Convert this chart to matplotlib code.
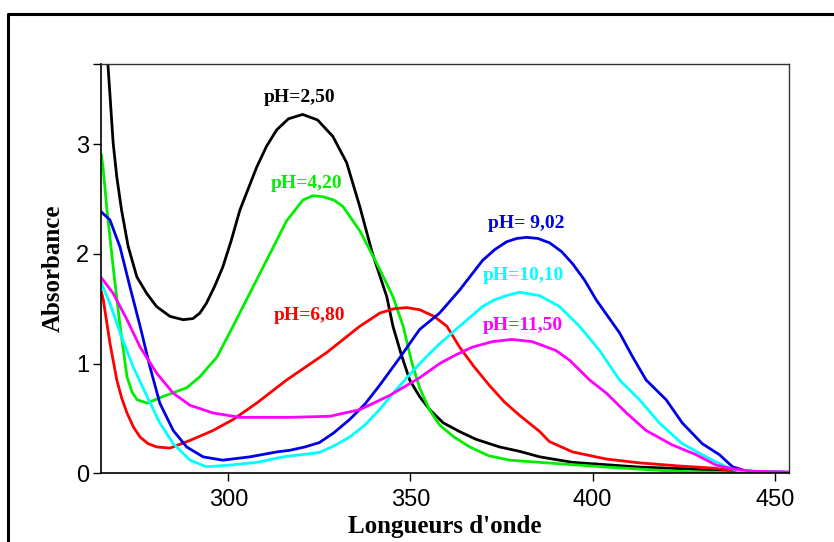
import matplotlib.pyplot as plt
from matplotlib.lines import Line2D

# absorption spectra at several pH values (wavelength in nm, absorbance)
x_250 = [265.2, 267.5, 268.4, 269.4, 270.7, 272.5, 274.9, 277.6, 280.3, 284.0, 287.6,
         290.3, 292.2, 294.0, 296.2, 298.5, 300.8, 303.2, 307.8, 310.5, 313.3, 316.5,
         320.4, 324.5, 328.7, 332.5, 336.1, 339.6, 343.5, 345.2, 347.5, 349.8, 352.5,
         355.3, 359.0, 363.5, 368.0, 374.5, 380.0, 385.5, 394.5, 412.9, 426.6, 440.0,
         454.0]
y_250 = [4.60, 3.46, 3.01, 2.70, 2.40, 2.07, 1.79, 1.64, 1.52, 1.43, 1.40,
         1.41, 1.46, 1.55, 1.70, 1.88, 2.12, 2.40, 2.79, 2.98, 3.13, 3.23,
         3.27, 3.22, 3.07, 2.83, 2.43, 2.00, 1.61, 1.34, 1.08, 0.85, 0.70,
         0.58, 0.46, 0.38, 0.31, 0.24, 0.20, 0.15, 0.10, 0.057, 0.04, 0.01,
         0.0]

x_420 = [265.2, 265.7, 266.7, 268.4, 270.3, 272.2, 273.6, 275.0, 277.7, 282.1, 288.6,
         292.2, 296.9, 301.3, 305.9, 310.5, 316.0, 320.5, 323.2, 326.0, 329.0, 331.5,
         336.1, 340.8, 345.2, 348.0, 350.3, 352.5, 355.2, 358.0, 362.0, 366.3, 371.5,
         377.3, 385.5, 403.8, 421.8, 438.0, 454.0]
y_420 = [2.90, 2.76, 2.40, 1.88, 1.34, 0.88, 0.74, 0.67, 0.64, 0.70, 0.78,
         0.88, 1.06, 1.34, 1.64, 1.94, 2.30, 2.49, 2.53, 2.52, 2.49, 2.43,
         2.21, 1.91, 1.61, 1.34, 1.02, 0.78, 0.58, 0.44, 0.33, 0.24, 0.16,
         0.12, 0.10, 0.057, 0.02, 0.005, 0.0]

x_680 = [265.2, 265.7, 267.5, 269.4, 270.8, 272.2, 274.0, 275.8, 278.0, 280.4, 284.0,
         289.5, 295.8, 301.3, 307.8, 316.0, 327.0, 336.1, 341.6, 345.5, 349.0, 352.6,
         356.5, 360.0, 363.5, 367.5, 371.7, 375.8, 379.9, 385.5, 388.1, 394.5, 403.8,
         412.9, 423.8, 432.9, 439.5, 445.0, 454.0]
y_680 = [1.65, 1.58, 1.19, 0.85, 0.68, 0.55, 0.42, 0.33, 0.27, 0.24, 0.23,
         0.30, 0.39, 0.49, 0.64, 0.85, 1.10, 1.34, 1.46, 1.50, 1.51, 1.49,
         1.43, 1.34, 1.15, 0.97, 0.80, 0.65, 0.53, 0.38, 0.29, 0.195, 0.13,
         0.095, 0.067, 0.048, 0.02, 0.01, 0.0]

x_902 = [265.2, 267.5, 270.3, 273.0, 275.8, 278.5, 281.2, 284.9, 288.6, 293.1, 298.5,
         305.9, 313.3, 316.9, 321.0, 325.0, 329.0, 333.3, 337.5, 341.5, 347.0, 352.5,
         358.0, 363.5, 369.8, 373.2, 376.4, 379.2, 381.9, 385.0, 388.2, 391.5, 394.5,
         397.8, 401.0, 404.2, 407.4, 411.0, 414.7, 420.2, 424.6, 430.1, 434.8, 438.4,
         442.2, 454.0]
y_902 = [2.38, 2.31, 2.06, 1.70, 1.34, 0.97, 0.64, 0.39, 0.24, 0.15, 0.12,
         0.15, 0.195, 0.21, 0.24, 0.28, 0.37, 0.49, 0.63, 0.80, 1.05, 1.31,
         1.46, 1.67, 1.94, 2.04, 2.11, 2.14, 2.15, 2.14, 2.10, 2.02, 1.91,
         1.76, 1.58, 1.43, 1.28, 1.06, 0.85, 0.67, 0.46, 0.27, 0.17, 0.06,
         0.02, 0.01]

x_1010 = [265.2, 267.5, 270.3, 273.9, 277.7, 281.2, 284.9, 289.5, 294.0, 300.4, 307.8,
          315.0, 320.0, 325.0, 329.0, 333.3, 337.5, 341.5, 345.5, 349.8, 354.0, 358.0,
          363.5, 369.8, 373.0, 376.4, 380.0, 385.4, 390.9, 396.4, 401.9, 407.4, 412.9,
          418.3, 424.6, 431.2, 436.6, 440.2, 454.0]
y_1010 = [1.73, 1.55, 1.28, 0.97, 0.70, 0.46, 0.27, 0.12, 0.06, 0.075, 0.10,
          0.15, 0.17, 0.19, 0.25, 0.33, 0.44, 0.58, 0.74, 0.90, 1.05, 1.18,
          1.34, 1.52, 1.58, 1.62, 1.65, 1.62, 1.52, 1.34, 1.12, 0.85, 0.67,
          0.46, 0.27, 0.15, 0.06, 0.02, 0.01]

x_1150 = [265.2, 268.4, 272.2, 275.8, 280.4, 284.9, 289.5, 295.8, 303.2, 316.9, 327.9,
          336.1, 344.3, 352.5, 358.0, 362.5, 367.0, 372.5, 377.9, 383.4, 389.9, 393.7,
          399.2, 403.8, 409.3, 414.7, 421.8, 428.4, 433.9, 438.4, 443.9, 454.0]
y_1150 = [1.78, 1.64, 1.40, 1.15, 0.91, 0.73, 0.62, 0.55, 0.51, 0.51, 0.52,
          0.58, 0.71, 0.87, 1.00, 1.08, 1.15, 1.20, 1.22, 1.20, 1.12, 1.03,
          0.85, 0.73, 0.55, 0.39, 0.26, 0.17, 0.075, 0.04, 0.02, 0.01]

labels = ['pH=2,50', 'pH=4,20', 'pH=6,80', 'pH= 9,02', 'pH=10,10', 'pH=11,50']
colors = ['#000000', '#00ee00', '#ff0000', '#0000e6', '#00ffff', '#ff00ff']
label_x = [319.6, 321.5, 322.4, 381.8, 380.9, 380.9]
label_y = [3.42, 2.64, 1.44, 2.28, 1.80, 1.35]

series = [(x_250, y_250), (x_420, y_420), (x_680, y_680),
          (x_902, y_902), (x_1010, y_1010), (x_1150, y_1150)]

fig = plt.figure(figsize=(8.34, 5.42), dpi=100)
ax = fig.add_axes([0.1217, 0.1267, 0.8243, 0.7553])

for (xs, ys), c in zip(series, colors):
    ax.plot(xs, ys, color=c, lw=2.0, solid_joinstyle='round')

for lab, lx, ly, c in zip(labels, label_x, label_y, colors):
    ax.text(lx, ly, lab, color=c, ha='center', va='center',
            family='Liberation Serif', weight='bold', fontsize=14)

ax.set_xlim(265.2, 453.9)
ax.set_ylim(0, 3.73)
ax.set_xticks([300, 350, 400, 450])
ax.set_yticks([0, 1, 2, 3])
ax.set_yticks([3.73], minor=True)
ax.tick_params(which='both', direction='out', length=6, width=1, color='black')
ax.tick_params(axis='x', pad=5)
ax.tick_params(axis='y', pad=3)
for t in ax.get_xticklabels() + ax.get_yticklabels():
    t.set_family(['Liberation Sans Narrow', 'Liberation Sans'])
    t.set_fontsize(17)

for s in ['left', 'bottom']:
    ax.spines[s].set_linewidth(1.2)
    ax.spines[s].set_color('black')
for s in ['top', 'right']:
    ax.spines[s].set_linewidth(1.0)
    ax.spines[s].set_color('#333333')

ax.set_xlabel("Longueurs d'onde", family='Liberation Serif', weight='bold',
              fontsize=18, labelpad=3)
ax.set_ylabel('Absorbance', family='Liberation Serif', weight='bold',
              fontsize=18, labelpad=8)

# outer frame, open on the right and bottom
W, H = 834, 542
fig.add_artist(Line2D([8 / W, 8 / W, 1.0], [0.0, 1 - 14 / H, 1 - 14 / H],
                      transform=fig.transFigure, color='black', lw=2.2))

fig.savefig('out.png', dpi=100)
